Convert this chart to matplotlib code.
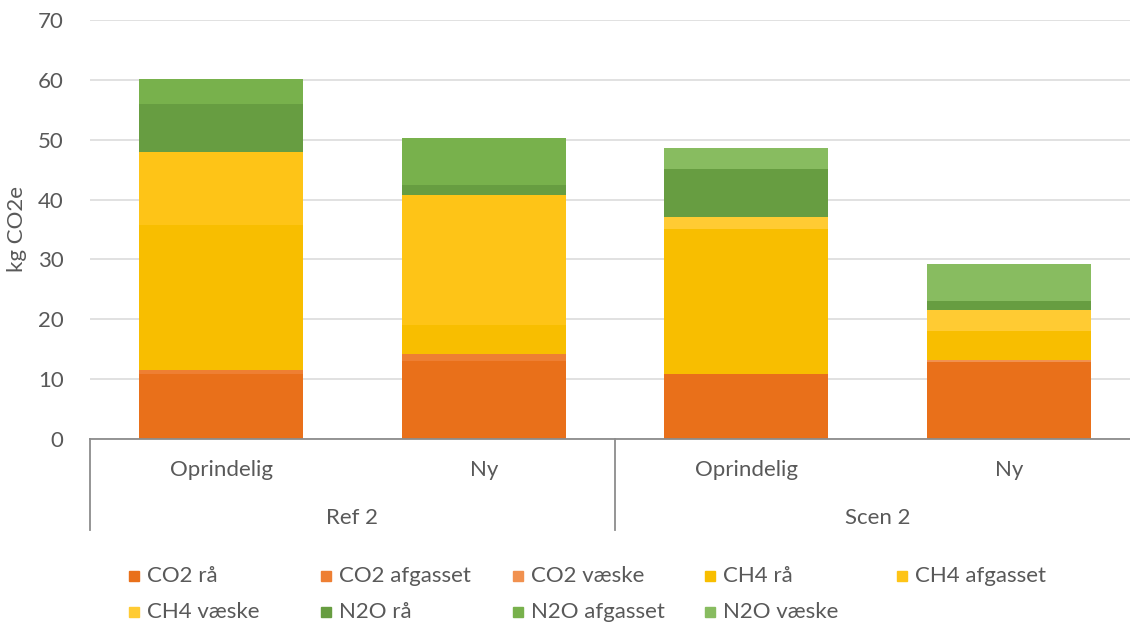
import matplotlib
matplotlib.use("Agg")
import matplotlib.pyplot as plt
from matplotlib.patches import Rectangle
from matplotlib.lines import Line2D

plt.rcParams['font.family'] = ['Lato', 'DejaVu Sans']

categories = ["Oprindelig", "Ny", "Oprindelig", "Ny"]
groups = ["Ref 2", "Scen 2"]
series_names = ["CO2 rå", "CO2 afgasset", "CO2 væske", "CH4 rå", "CH4 afgasset",
                "CH4 væske", "N2O rå", "N2O afgasset", "N2O væske"]
co2_raa = [10.9, 13.0, 10.9, 12.9]
co2_afgasset = [0.6, 1.25, 0.0, 0.0]
co2_vaeske = [0.0, 0.0, 0.0, 0.3]
ch4_raa = [24.2, 4.85, 24.2, 4.8]
ch4_afgasset = [12.2, 21.7, 0.0, 0.0]
ch4_vaeske = [0.0, 0.0, 2.0, 3.5]
n2o_raa = [8.0, 1.7, 8.0, 1.6]
n2o_afgasset = [4.3, 7.75, 0.0, 0.0]
n2o_vaeske = [0.0, 0.0, 3.5, 6.2]
series_values = [co2_raa, co2_afgasset, co2_vaeske, ch4_raa, ch4_afgasset,
                 ch4_vaeske, n2o_raa, n2o_afgasset, n2o_vaeske]
colors = ["#E9701A", "#EE7F33", "#F1914F", "#F8BE00", "#FEC417", "#FFCB33",
          "#679D41", "#78B14C", "#88BC60"]
yticks = [0, 10, 20, 30, 40, 50, 60, 70]

FS = 16
W, H = 1130, 625
fig = plt.figure(figsize=(W / 100, H / 100), dpi=100)
ax_l, ax_r, ax_b, ax_t = 90, 1140, 439, 20
ax = fig.add_axes([ax_l / W, (H - ax_b) / H, (ax_r - ax_l) / W, (ax_b - ax_t) / H])

x = list(range(len(categories)))
bottom = [0.0] * len(categories)
for name, vals, c in zip(series_names, series_values, colors):
    ax.bar(x, vals, bottom=bottom, width=0.625, color=c, label=name, zorder=2)
    bottom = [b + v for b, v in zip(bottom, vals)]

ax.set_xlim(-0.5, len(categories) - 0.5)
ax.set_ylim(0, 70)
ax.set_yticks(yticks)
ax.grid(axis='y', color='#D9D9D9', linewidth=1.1, zorder=0)
ax.set_axisbelow(True)
for s in ['top', 'right', 'left']:
    ax.spines[s].set_visible(False)
ax.spines['bottom'].set_color('#8C8C8C')
ax.spines['bottom'].set_linewidth(1.3)
ax.spines['bottom'].set_zorder(3)
ax.tick_params(axis='y', length=0, labelsize=FS, labelcolor='#595959', pad=19)
ax.set_xticks(x)
ax.set_xticklabels(categories)
ax.tick_params(axis='x', length=0, labelsize=FS, labelcolor='#595959', pad=15)
ax.set_ylabel("kg CO2e", fontsize=FS, color='#595959', labelpad=8)

# group labels and separators
trans = ax.get_xaxis_transform()
sep_len = (530 - ax_b) / (ax_b - ax_t)
for xs in [-0.5, 1.5, 3.5]:
    ax.add_line(Line2D([xs, xs], [0, -sep_len], transform=trans, color='#8C8C8C',
                       linewidth=1.3, clip_on=False))
for gi, g in enumerate(groups):
    ax.text(gi * 2 + 0.5, -(518 - ax_b) / (ax_b - ax_t), g, transform=trans,
            ha='center', va='center', fontsize=FS, color='#595959')

# legend (Excel-style fixed columns)
for i, (name, c) in enumerate(zip(series_names, colors)):
    col, row = i % 5, i // 5
    px = 134 + 192 * col
    py = 576 + 36 * row
    fig.patches.append(Rectangle(((px - 5) / W, (H - py - 5) / H), 10 / W, 10 / H,
                                 transform=fig.transFigure, color=c, figure=fig))
    fig.text((px + 13) / W, (H - py) / H, name, ha='left', va='center',
             fontsize=FS, color='#595959')

fig.savefig("out.png", dpi=100)
